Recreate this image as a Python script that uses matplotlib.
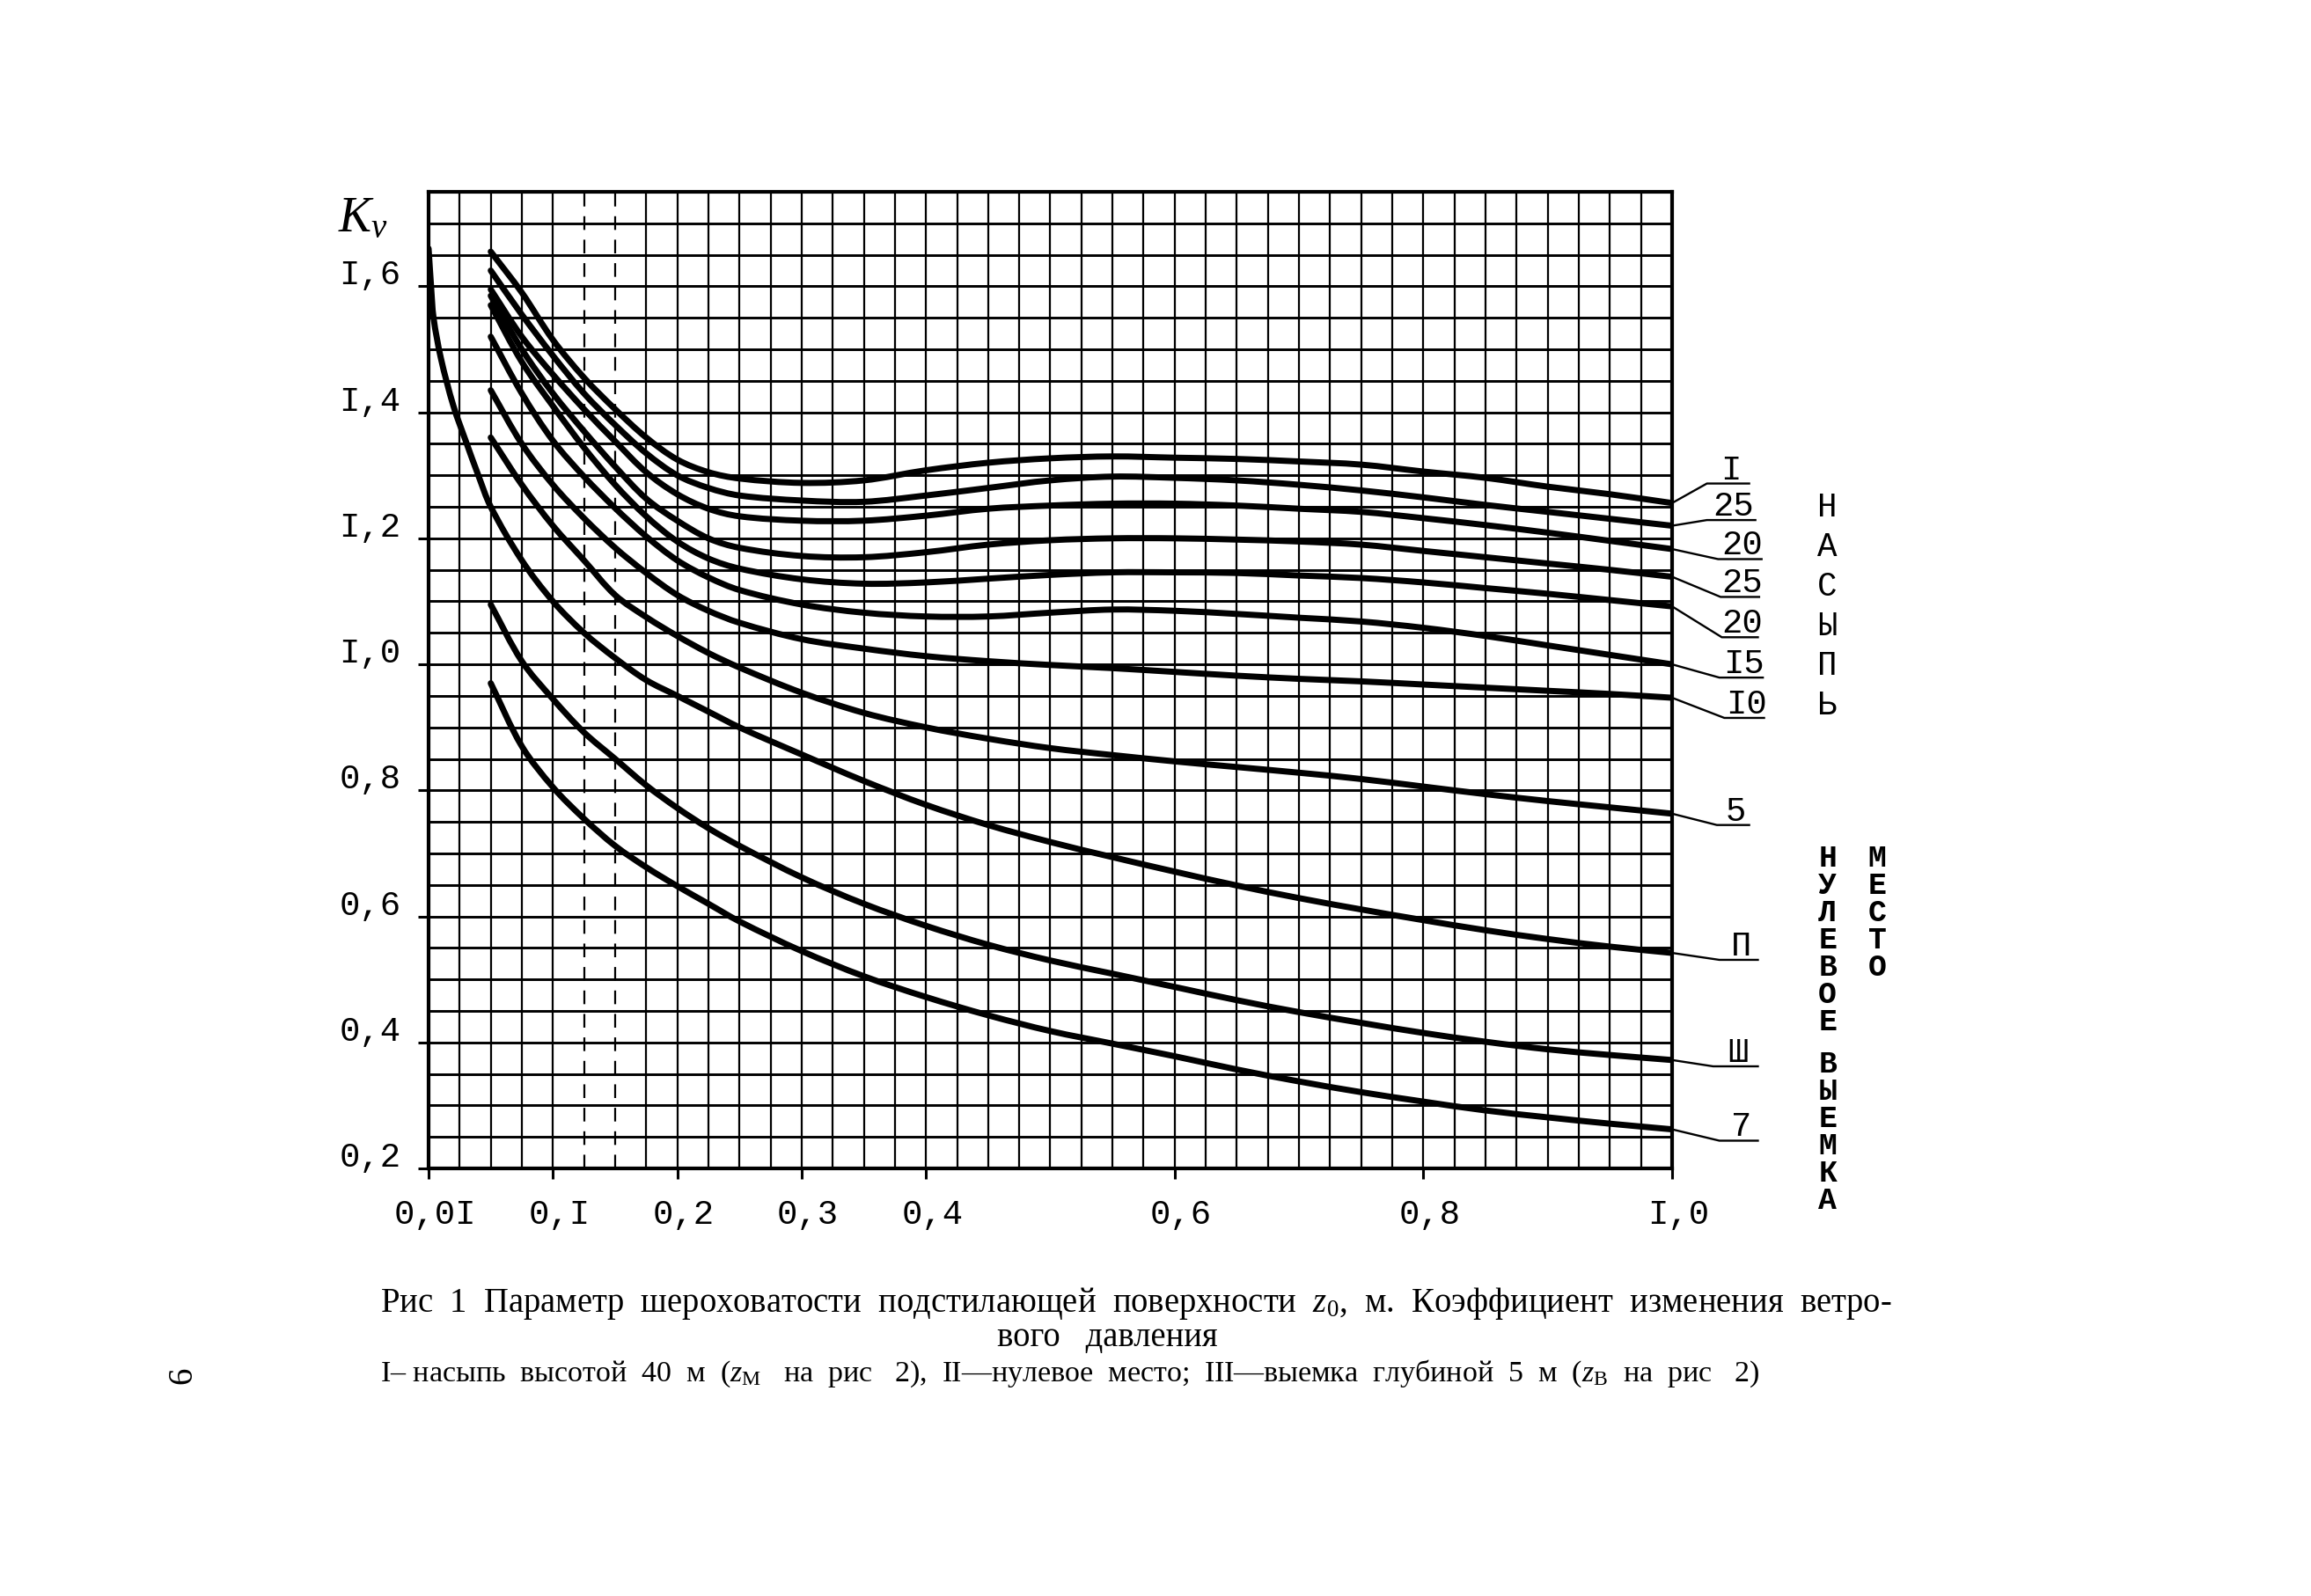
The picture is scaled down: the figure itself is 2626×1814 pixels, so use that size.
"""Kv against the roughness parameter z0 (scanned-chart recreation)."""

import numpy as np
import matplotlib

matplotlib.use("Agg")
import matplotlib.pyplot as plt
from matplotlib.patches import PathPatch
from matplotlib.path import Path
from matplotlib.transforms import ScaledTranslation, blended_transform_factory

# ---- data --------------------------------------------------------------
# z0, m for the ten curves that start at about 0.05
z0_values = [0.055, 0.0775, 0.1, 0.125, 0.15, 0.175, 0.2, 0.225, 0.25, 0.3,
             0.35, 0.4, 0.45, 0.5, 0.55, 0.6, 0.65, 0.7, 0.75, 0.8, 0.85,
             0.9, 0.95, 1.0]

kv_embankment_40 = [1.655, 1.59, 1.515, 1.455, 1.405, 1.36, 1.325, 1.305,
                    1.295, 1.288, 1.292, 1.308, 1.32, 1.327, 1.33, 1.328,
                    1.326, 1.322, 1.317, 1.306, 1.296, 1.282, 1.27, 1.256]
kv_embankment_25a = [1.625, 1.555, 1.49, 1.43, 1.38, 1.335, 1.30, 1.28, 1.268,
                     1.26, 1.258, 1.268, 1.28, 1.292, 1.298, 1.296, 1.292,
                     1.285, 1.276, 1.265, 1.253, 1.242, 1.231, 1.22]
kv_embankment_20a = [1.595, 1.52, 1.46, 1.405, 1.354, 1.305, 1.27, 1.247,
                     1.235, 1.228, 1.228, 1.236, 1.247, 1.252, 1.255, 1.255,
                     1.252, 1.247, 1.242, 1.232, 1.221, 1.209, 1.196, 1.183]
kv_embankment_25b = [1.585, 1.50, 1.43, 1.37, 1.314, 1.263, 1.228, 1.2, 1.185,
                     1.172, 1.17, 1.178, 1.19, 1.197, 1.2, 1.2, 1.198, 1.195,
                     1.19, 1.18, 1.17, 1.16, 1.15, 1.139]
kv_embankment_20b = [1.57, 1.48, 1.41, 1.344, 1.285, 1.235, 1.195, 1.168,
                     1.152, 1.135, 1.128, 1.13, 1.136, 1.142, 1.146, 1.146,
                     1.145, 1.141, 1.137, 1.13, 1.121, 1.112, 1.102, 1.092]
kv_embankment_15 = [1.52, 1.43, 1.355, 1.298, 1.248, 1.203, 1.165, 1.138,
                    1.118, 1.095, 1.082, 1.076, 1.076, 1.082, 1.087, 1.085,
                    1.08, 1.074, 1.068, 1.058, 1.045, 1.03, 1.015, 1.0]
kv_embankment_10 = [1.435, 1.35, 1.285, 1.232, 1.185, 1.145, 1.11, 1.085,
                    1.066, 1.04, 1.025, 1.013, 1.005, 0.999, 0.994, 0.988,
                    0.982, 0.977, 0.973, 0.968, 0.963, 0.958, 0.953, 0.947]
kv_embankment_5 = [1.36, 1.285, 1.22, 1.165, 1.11, 1.075, 1.045, 1.018, 0.995,
                   0.955, 0.923, 0.9, 0.882, 0.867, 0.856, 0.846, 0.837,
                   0.828, 0.818, 0.806, 0.794, 0.783, 0.773, 0.763]
kv_cutting_5 = [1.095, 1.005, 0.945, 0.892, 0.85, 0.808, 0.772, 0.74, 0.712,
                0.662, 0.62, 0.585, 0.555, 0.53, 0.509, 0.488, 0.467, 0.448,
                0.431, 0.415, 0.401, 0.389, 0.38, 0.372]
kv_cutting_7 = [0.97, 0.87, 0.805, 0.755, 0.712, 0.678, 0.648, 0.62, 0.592,
                0.545, 0.505, 0.472, 0.443, 0.418, 0.398, 0.378, 0.357, 0.338,
                0.321, 0.306, 0.292, 0.281, 0.271, 0.262]

# the zero-level curve starts right at z0 = 0.01
z0_zero_level = [0.01, 0.0118, 0.0136, 0.019, 0.028, 0.037, 0.046, 0.055,
                 0.0775, 0.1, 0.125, 0.15, 0.175, 0.2, 0.225, 0.25, 0.3, 0.35,
                 0.4, 0.45, 0.5, 0.55, 0.6, 0.65, 0.7, 0.75, 0.8, 0.85, 0.9,
                 0.95, 1.0]
kv_zero_level = [1.66, 1.60, 1.55, 1.485, 1.41, 1.354, 1.30, 1.25, 1.165, 1.10,
                 1.05, 1.01, 0.975, 0.95, 0.925, 0.9, 0.857, 0.815, 0.777,
                 0.745, 0.718, 0.694, 0.671, 0.649, 0.629, 0.611, 0.594,
                 0.578, 0.564, 0.552, 0.542]

curve_labels = ["I", "25", "20", "25", "20", "I5", "I0", "5", "П", "Ш", "7"]

x_tick_values = [0.01, 0.1, 0.2, 0.3, 0.4, 0.6, 0.8, 1.0]
x_tick_labels = ["0,0I", "0,I", "0,2", "0,3", "0,4", "0,6", "0,8", "I,0"]
y_tick_values = [0.2, 0.4, 0.6, 0.8, 1.0, 1.2, 1.4, 1.6]
y_tick_labels = ["0,2", "0,4", "0,6", "0,8", "I,0", "I,2", "I,4", "I,6"]

caption_line1 = ("Рис  1  Параметр  шероховатости  подстилающей  поверхности  "
                 "$z_0$,  м.  Коэффициент  изменения  ветро-")
caption_line2 = "вого   давления"
caption_line3 = ("I– насыпь  высотой  40  м  ($z_{\\mathrm{М}}$   на  рис   2),  "
                 "II—нулевое  место;  III—выемка  глубиной  5  м  "
                 "($z_{\\mathrm{В}}$  на  рис   2)")

# label layout: (underline offset from curve end, underline start, end)
_LABEL_LAYOUT = [(0.031, 1.028, 1.062), (0.009, 1.028, 1.067),
                 (-0.016, 1.037, 1.072), (-0.032, 1.039, 1.070),
                 (-0.049, 1.040, 1.069), (-0.021, 1.038, 1.073),
                 (-0.032, 1.042, 1.074), (-0.018, 1.036, 1.062),
                 (-0.011, 1.038, 1.069), (-0.010, 1.033, 1.069),
                 (-0.018, 1.038, 1.069)]

_AXES_PX = (1413.0, 716.0)  # pixels per axes-fraction unit and per Kv unit

MONO = "Liberation Mono"
SERIF = "Liberation Serif"

plt.rcParams["font.family"] = [SERIF, "DejaVu Serif"]
plt.rcParams["mathtext.fontset"] = "custom"
plt.rcParams["mathtext.rm"] = SERIF
plt.rcParams["mathtext.it"] = SERIF + ":italic"


# the drawn axis puts 0.01 at the frame and 0.1 four cells later,
# then runs linearly to 1.0
def _forward(x):
    x = np.asarray(x, dtype=float)
    return np.where(x < 0.1, (x - 0.01) / 0.9, x)


def _inverse(p):
    p = np.asarray(p, dtype=float)
    return np.where(p < 0.1, 0.01 + 0.9 * p, p)


def _smooth_path(xs, ys):
    """Cubic Bezier path through the points, like a french-curve drawing."""
    pts = np.column_stack([_forward(xs), ys]) * _AXES_PX
    count = len(pts)
    tangents = []
    for i in range(count):
        before = pts[max(i - 1, 0)]
        after = pts[min(i + 1, count - 1)]
        step = after - before
        tangents.append(step / np.hypot(*step))
    verts = [pts[0]]
    codes = [Path.MOVETO]
    for i in range(count - 1):
        chord = np.hypot(*(pts[i + 1] - pts[i])) / 3
        verts += [pts[i] + tangents[i] * chord,
                  pts[i + 1] - tangents[i + 1] * chord, pts[i + 1]]
        codes += [Path.CURVE4] * 3
    return Path(np.array(verts) / _AXES_PX, codes)


fig = plt.figure(figsize=(26.26, 18.14), dpi=100)
ax = fig.add_axes([0.18545, 0.26792, 0.53808, 0.61191])
ax.set_xscale("function", functions=(_forward, _inverse))
ax.set_xlim(0.01, 1.0)
ax.set_ylim(0.2, 1.75)
side = blended_transform_factory(ax.transAxes, ax.transData)

# hand-ruled grid: 40 columns, rows every 0.05
grid_cols = _inverse(np.arange(41) * 0.025)
for index, x in enumerate(grid_cols[1:-1], start=1):
    style = (0, (7, 5)) if index in (5, 6) else "-"
    ax.vlines(x, 0.2, 1.75, color="black", linewidth=1.6, linestyle=style,
              zorder=1)
for y in np.arange(0.25, 1.75, 0.05):
    ax.hlines(y, 0.01, 1.0, color="black", linewidth=2.1, zorder=1)

for spine in ("left", "right", "top", "bottom"):
    ax.spines[spine].set_linewidth(3.0)

curves = [(z0_values, kv_embankment_40), (z0_values, kv_embankment_25a),
          (z0_values, kv_embankment_20a), (z0_values, kv_embankment_25b),
          (z0_values, kv_embankment_20b), (z0_values, kv_embankment_15),
          (z0_values, kv_embankment_10), (z0_values, kv_embankment_5),
          (z0_zero_level, kv_zero_level), (z0_values, kv_cutting_5),
          (z0_values, kv_cutting_7)]
for xs, values in curves:
    ax.add_patch(PathPatch(_smooth_path(xs, values), fill=False,
                           edgecolor="black", linewidth=5.0,
                           capstyle="round", joinstyle="round",
                           transform=side, zorder=3))

ax.set_xticks(x_tick_values, x_tick_labels)
ax.set_yticks(y_tick_values, y_tick_labels)
ax.minorticks_off()
ax.tick_params(direction="out", length=8.5, width=2.2, labelsize=28)
ax.tick_params(axis="x", pad=17)
ax.tick_params(axis="y", pad=14)
for label in ax.get_xticklabels() + ax.get_yticklabels():
    label.set_fontfamily(MONO)
for label in ax.get_xticklabels():
    label.set_transform(label.get_transform()
                        + ScaledTranslation(0.07, 0, fig.dpi_scale_trans))
for label in ax.get_yticklabels():
    label.set_transform(label.get_transform()
                        + ScaledTranslation(0, 0.16, fig.dpi_scale_trans))

ax.text(-0.053, 1.707, "$K_v$", transform=side, fontsize=40,
        ha="center", va="center")

# curve labels with leader lines and underlines, right of the frame
for text, (xs, values), (offset, u0, u1) in zip(curve_labels, curves,
                                                _LABEL_LAYOUT):
    end = values[-1]
    under = end + offset
    ax.plot([1.0, u0, u1], [end, under, under], color="black",
            linewidth=1.7, transform=side, clip_on=False)
    ax.text((u0 + u1) / 2 + 0.002, under + 0.007, text, transform=side,
            fontsize=28, fontfamily=MONO, ha="center", va="baseline",
            clip_on=False)

# stacked group names
for row, letter in enumerate("НАСЫПЬ"):
    ax.text(1.125, 1.249 - 0.063 * row, letter, transform=side, fontsize=27,
            fontfamily=MONO, ha="center", va="center", clip_on=False)

column_step = 0.0433
rows = list(range(7)) + [7.53 + k for k in range(6)]
for row, letter in zip(rows, "НУЛЕВОЕВЫЕМКА"):
    ax.text(1.125, 0.692 - column_step * row, letter, transform=side,
            fontsize=25, fontfamily=MONO, fontweight="bold", ha="center",
            va="center", clip_on=False)
for row, letter in enumerate("МЕСТО"):
    ax.text(1.165, 0.692 - column_step * row, letter, transform=side,
            fontsize=25, fontfamily=MONO, fontweight="bold", ha="center",
            va="center", clip_on=False)

# caption, each line fitted to the width it has on the page
renderer = fig.canvas.get_renderer()


def _fit_width(text_artist, target_px):
    width = text_artist.get_window_extent(renderer).width
    text_artist.set_fontsize(text_artist.get_fontsize() * target_px / width)


line1 = fig.text(432 / 2626, 1 - 1481 / 1814, caption_line1, fontsize=24,
                 ha="left", va="center")
_fit_width(line1, 1718)
fig.text(1258 / 2626, 1 - 1520 / 1814, caption_line2,
         fontsize=line1.get_fontsize(), ha="center", va="center")
line3 = fig.text(432 / 2626, 1 - 1561 / 1814, caption_line3, fontsize=18,
                 ha="left", va="center")
_fit_width(line3, 1568)

fig.text(208 / 2626, 1 - 1563 / 1814, "6", rotation=90, fontsize=28,
         ha="center", va="center")

fig.savefig("out.png", dpi=100, facecolor="white")
